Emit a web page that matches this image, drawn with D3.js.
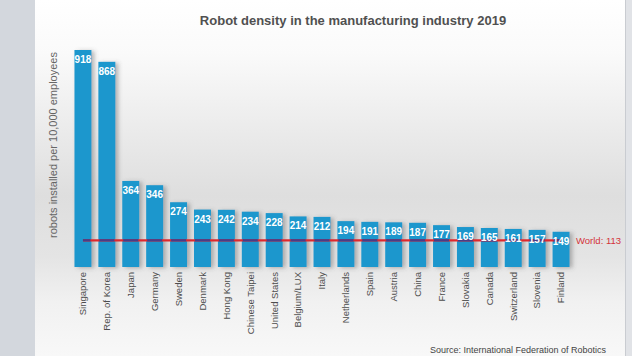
<!DOCTYPE html>
<html><head><meta charset="utf-8">
<script src="https://cdn.jsdelivr.net/npm/d3@7"></script>
<style>
html,body{margin:0;padding:0;background:#d3d7dd;}
svg{display:block;font-family:Arial,"Liberation Sans",Helvetica,sans-serif;}
</style></head>
<body>
<svg id="c" width="632" height="356"></svg>
<script>
const countries = ["Singapore","Rep. of Korea","Japan","Germany","Sweden","Denmark","Hong Kong","Chinese Taipei","United States","Belgium/LUX","Italy","Netherlands","Spain","Austria","China","France","Slovakia","Canada","Switzerland","Slovenia","Finland"];
const density = [918,868,364,346,274,243,242,234,228,214,212,194,191,189,187,177,169,165,161,157,149];
const worldAverage = 113;
const worldLabel = "World: 113";
const titleText = "Robot density in the manufacturing industry 2019";
const yAxisTitle = "robots installed per 10,000 employees";
const sourceText = "Source: International Federation of Robotics";

const svg = d3.select("#c");
const W = 632, H = 356;
const defs = svg.append("defs");
const bg = defs.append("linearGradient").attr("id","bg").attr("x1",0).attr("y1",0).attr("x2",0).attr("y2",1);
[[0,"#ffffff"],[0.15,"#fafafa"],[0.55,"#dedede"],[0.72,"#e4e4e4"],[0.85,"#f1f1f1"],[1,"#f8f8f8"]]
  .forEach(([o,c])=>bg.append("stop").attr("offset",o).attr("stop-color",c));
const f = defs.append("filter").attr("id","sh").attr("x","-50%").attr("y","-10%").attr("width","200%").attr("height","130%");
f.append("feDropShadow").attr("dx",3).attr("dy",1).attr("stdDeviation",2).attr("flood-color","#555").attr("flood-opacity",0.4);

// slide background
svg.append("rect").attr("x",0).attr("y",0).attr("width",35).attr("height",H).attr("fill","#d3d7dd");
svg.append("rect").attr("x",35).attr("y",0).attr("width",590).attr("height",H).attr("fill","url(#bg)");
svg.append("rect").attr("x",625).attr("y",0).attr("width",7).attr("height",H).attr("fill","#e1e3e7");
svg.append("rect").attr("x",625).attr("y",0).attr("width",1).attr("height",H).attr("fill","#c9ccd1");

const x = d3.scaleBand().domain(countries).range([71,573]).paddingInner(0.29).paddingOuter(0.145);
const y = d3.scaleLinear().domain([0, d3.max(density)]).range([267,50]);

const data = countries.map((c,i)=>({c, v:density[i]}));

// bars
svg.append("g").attr("filter","url(#sh)").selectAll("rect").data(data).join("rect")
  .attr("x",d=>x(d.c)).attr("y",d=>y(d.v))
  .attr("width",x.bandwidth()).attr("height",d=>y(0)-y(d.v))
  .attr("fill","#1a97cd");

// world line
const yw = y(worldAverage);
const xs = x(countries[0]) + x.bandwidth()/2;
const xe = x(countries[countries.length-1]) + x.bandwidth()/2;
svg.append("line").attr("x1",xs).attr("x2",xe).attr("y1",yw).attr("y2",yw)
  .attr("stroke","#e0282c").attr("stroke-width",2.2);
svg.append("g").selectAll("line").data(data).join("line")
  .attr("x1",(d,i)=> i===0 ? xs : x(d.c)+1)
  .attr("x2",(d,i)=> i===countries.length-1 ? xe : x(d.c)+x.bandwidth()-1)
  .attr("y1",yw).attr("y2",yw)
  .attr("stroke","#4a3c86").attr("stroke-width",2.2);

svg.append("text").attr("x",576).attr("y",yw+3.5).attr("fill","#d3343a")
  .attr("font-size",9.5).text(worldLabel);

// value labels
svg.append("g").selectAll("text").data(data).join("text")
  .attr("x",d=>x(d.c)+x.bandwidth()/2).attr("y",d=>y(d.v)+13)
  .attr("text-anchor","middle").attr("fill","#ffffff").attr("font-weight","bold")
  .attr("font-size",10).text(d=>d.v);

// category labels (axis)
const xAxis = svg.append("g").attr("transform","translate(0,267)")
  .call(d3.axisBottom(x).tickSize(0).tickPadding(0));
xAxis.select(".domain").remove();
xAxis.selectAll("text")
  .attr("transform","rotate(-90)")
  .attr("x",-5).attr("y",0).attr("dy","0.35em")
  .attr("text-anchor","end")
  .attr("fill","#4d4d4d").attr("font-size",9.5)
  .attr("font-family","Arial, 'Liberation Sans', sans-serif");

// title
svg.append("text").attr("x",353).attr("y",25).attr("text-anchor","middle")
  .attr("font-weight","bold").attr("font-size",13).attr("fill","#505050").text(titleText);

// y axis title
svg.append("text").attr("transform","translate(57,145) rotate(-90)")
  .attr("text-anchor","middle").attr("font-size",11).attr("fill","#666").text(yAxisTitle);

// source
svg.append("text").attr("x",606).attr("y",353).attr("text-anchor","end")
  .attr("font-size",9).attr("fill","#444").text(sourceText);
</script>
</body></html>
